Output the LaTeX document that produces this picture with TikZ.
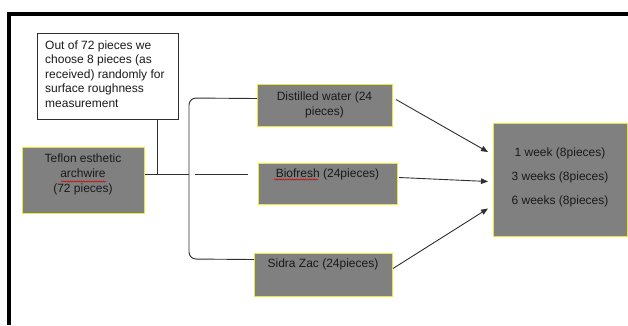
\documentclass[tikz,border=0pt]{standalone}
\usepackage{fontspec}
\setmainfont{Liberation Sans}
\usetikzlibrary{arrows.meta,decorations.pathmorphing}
\definecolor{boxgray}{HTML}{808080}
\definecolor{boxedge}{HTML}{E8E83A}
\definecolor{txt}{HTML}{1A1A1A}
\definecolor{lin}{HTML}{303030}
\begin{document}
\begin{tikzpicture}[x=1pt,y=-1pt,
  graybox/.style={draw=boxedge, line width=1pt, fill=boxgray, inner sep=0pt, anchor=north west},
  notebox/.style={draw=lin, line width=0.8pt, fill=white, inner sep=0pt, anchor=north west},
  lbl/.style={text=txt, font=\fontsize{12}{15}\selectfont, align=center, inner sep=0pt, anchor=north},
  conn/.style={draw=lin, line width=0.9pt},
  arr/.style={conn, -{Triangle[length=7pt,width=5.5pt]}},
  squig/.style={draw=red!85!black, line width=0.5pt, decorate, decoration={snake, amplitude=0.6pt, segment length=2.2pt}}]
\useasboundingbox (0,0) rectangle (628,325);
\fill[white] (0,0) rectangle (628,325);
\draw[line width=4.5pt, line join=miter] (9,325) -- (9,14) -- (628,14);

% boxes
\node[notebox, minimum width=141pt, minimum height=86pt] (note) at (37,33) {};
\node[graybox, minimum width=122pt, minimum height=66pt] (teflon) at (22,147) {};
\node[graybox, minimum width=135pt, minimum height=42pt] (dist) at (257,84) {};
\node[graybox, minimum width=139pt, minimum height=41pt] (bio) at (258,163) {};
\node[graybox, minimum width=138pt, minimum height=43pt] (sidra) at (254,253) {};
\node[graybox, minimum width=134pt, minimum height=113pt] (res) at (493,123) {};

% texts
\node[lbl, anchor=north west, align=left, font=\fontsize{12}{14.5}\selectfont] (notetxt) at (45,40.5)
  {Out of 72 pieces we\\choose 8 pieces (as\\received) randomly for\\surface roughness\\measurement};
\node[lbl] (teflontxt) at (83,153.5) {Teflon esthetic\\archwire\\(72 pieces)};
\node[lbl] (disttxt) at (324.5,91.5) {Distilled water (24\\pieces)};
\node[lbl] (biotxt) at (327.5,168.5) {Biofresh (24pieces)};
\node[lbl] (sidratxt) at (323,258.5) {Sidra Zac (24pieces)};
\node[lbl, font=\fontsize{12}{24}\selectfont] (restxt) at (560,147.5)
  {1 week (8pieces)\\3 weeks (8pieces)\\6 weeks (8pieces)};

% spelling underlines
\draw[squig] (61,181.5) -- (106,181.5);
\draw[squig] (274,179.5) -- (318,179.5);

% connectors
\coordinate (j) at (157,174);
\coordinate (b) at (189,174);
\draw[conn] (note.south -| j) -- (j);
\draw[conn] (teflon.east |- j) -- (b);
\draw[conn] ([shift={(6,0)}]b) -- ([shift={(-10,0)}]bio.west |- b);
\draw[conn, rounded corners=7pt] ([shift={(0,-7)}]dist.west) -- (b |- 0,98) -- (b |- 0,259) -- ([shift={(0,-15.5)}]sidra.west);

\draw[arr] ([shift={(3,-6)}]dist.east) -- ([shift={(-5,-28)}]res.west);
\draw[arr] ([shift={(1,-6.5)}]bio.east) -- ([shift={(-5,1.5)}]res.west);
\draw[arr] ([shift={(0,-6.5)}]sidra.east) -- ([shift={(-5,28.5)}]res.west);
\end{tikzpicture}
\end{document}
